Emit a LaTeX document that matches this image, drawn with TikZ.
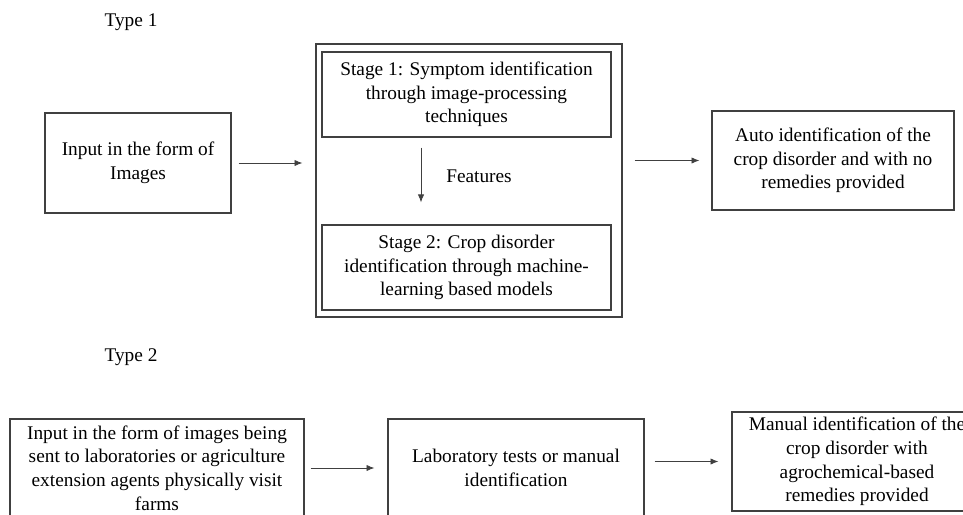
\documentclass[tikz,border=0pt]{standalone}
\usepackage{fontspec}
\setmainfont{Liberation Serif}
\usetikzlibrary{arrows.meta}

\begin{document}
\begin{tikzpicture}[x=0.02cm, y=-0.02cm,
    box/.style={draw=black!75, line width=0.7pt, align=center, inner sep=0pt,
        font=\fontsize{11}{13.4}\selectfont},
    arr/.style={draw=black!75, line width=0.45pt, -{Latex[length=4.5pt, width=3.6pt]}},
    lbl/.style={font=\fontsize{11}{13.4}\selectfont}]

\useasboundingbox (0,0) rectangle (963,514);
\clip (0,0) rectangle (963,514);

% Type 1: image processing + machine learning
\node[lbl] (type1) at (131,22) {Type 1};
\node[box, minimum width=3.72cm, minimum height=2cm] (in1) at (138,163) {Input in the form of\\Images};

% Outer frame holding both stages
\node[box, minimum width=6.12cm, minimum height=5.46cm] (stages) at (469,180.5) {};
\node[box, minimum width=5.78cm, minimum height=1.7cm] (st1) at (466.5,94.5)
    {Stage 1: Symptom identification\\through image-processing\\techniques};
\node[box, minimum width=5.78cm, minimum height=1.7cm] (st2) at (466.5,267.5)
    {Stage 2: Crop disorder\\identification through machine-\\learning based models};
\node[lbl] (feat) at (479,176) {Features};

\node[box, minimum width=4.84cm, minimum height=1.98cm] (out1) at (833,160.5)
    {Auto identification of the\\crop disorder and with no\\remedies provided};

% Arrows of type 1
\draw[arr, shorten <=0.14cm, shorten >=0.26cm] (in1.east) -- (in1.east -| stages.west);
\draw[arr] ([xshift=-0.91cm, yshift=-0.2cm]st1.south) -- ([xshift=-0.91cm, yshift=0.44cm]st2.north);
\draw[arr, shorten <=0.24cm, shorten >=0.24cm] (stages.east |- out1.west) -- (out1.west);

% Type 2: manual identification
\node[lbl] (type2) at (131,357) {Type 2};
\node[box, minimum width=5.88cm, minimum height=1.96cm] (in2) at (157,468)
    {Input in the form of images being\\sent to laboratories or agriculture\\extension agents physically visit\\farms};
\node[box, minimum width=5.12cm, minimum height=1.96cm] (lab) at (516,468)
    {Laboratory tests or manual\\identification};
\node[box, minimum width=5cm, minimum height=1.98cm] (out2) at (857,461.5)
    {Manual identification of the\\crop disorder with\\agrochemical-based\\remedies provided};

% Arrows of type 2
\draw[arr, shorten <=0.12cm, shorten >=0.26cm] (in2.east) -- (lab.west);
\draw[arr, shorten <=0.2cm, shorten >=0.26cm] (lab.east |- out2.west) -- (out2.west);
\end{tikzpicture}
\end{document}
